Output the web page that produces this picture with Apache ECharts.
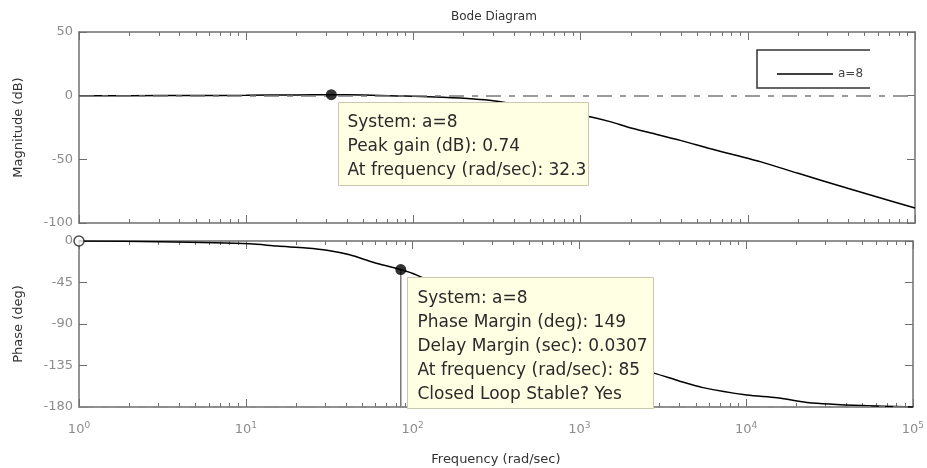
<!DOCTYPE html>
<html>
<head>
<meta charset="utf-8">
<script src="https://cdn.jsdelivr.net/npm/echarts@6/dist/echarts.min.js"></script>
<style>
  html, body { margin: 0; padding: 0; background: #fff; }
  #main { width: 927px; height: 468px; }
</style>
</head>
<body>
<div id="main"></div>
<script>
// magnitude curve (rad/sec, dB)
var magFreq = [1, 2, 5, 10, 20, 32.3, 50, 80, 100, 150, 230, 300, 500, 700, 1000, 1157, 1500, 2000, 2640, 4000, 6000, 8360, 12000, 20000, 40000, 70000, 100000];
var magDb   = [0, 0.02, 0.1, 0.3, 0.6, 0.74, 0.5, -0.2, -0.5, -1.3, -2.6, -4, -8.6, -12, -15.5, -16.7, -20.4, -25.4, -29.3, -35.3, -41.7, -46.6, -52, -61, -72.9, -82.3, -88.2];

// phase curve (rad/sec, deg)
var phaseFreq = [1, 3, 10.6, 15.4, 23, 30.7, 42, 58, 85, 106, 200, 400, 700, 1000, 1500, 2000, 2760, 4000, 5510, 10100, 15300, 23200, 50000, 100000];
var phaseDeg  = [0, -0.8, -3, -5.5, -7.6, -10, -15, -23, -31, -37, -60, -90, -112, -122, -132, -138, -143, -152, -159, -167, -170, -175, -178.5, -180];

// marked points
var peakPoint = [32.3, 0.74];
var marginPoint = [85, -31];
var startPoint = [1, 0];

// ticks
var decades = [1, 10, 100, 1000, 10000];
var minorMult = [2, 3, 4, 5, 6, 7, 8, 9];

var peakText = ['System: a=8', 'Peak gain (dB): 0.74', 'At frequency (rad/sec): 32.3'];
var marginText = ['System: a=8', 'Phase Margin (deg): 149', 'Delay Margin (sec): 0.0307', 'At frequency (rad/sec): 85', 'Closed Loop Stable? Yes'];

var minorTicks = [];
decades.forEach(function (d) {
  minorMult.forEach(function (m) { minorTicks.push(d * m); });
});

function pairs(xs, ys) {
  return xs.map(function (x, i) { return [x, ys[i]]; });
}

var axisGray = '#6f6f6f';
var labelGray = '#8c8c8c';
var font = 'DejaVu Sans';

function xAxisOf(grid, pos, minor, withLabel) {
  return {
    type: 'log', logBase: 10, min: 1, max: 100000,
    gridIndex: grid, position: pos,
    axisLine: { show: !minor, onZero: false, lineStyle: { color: axisGray, width: 1.5 } },
    axisTick: minor
      ? { show: true, inside: true, length: 4, customValues: minorTicks, lineStyle: { color: axisGray } }
      : { show: true, inside: true, length: 8, lineStyle: { color: axisGray } },
    minorTick: { show: false },
    splitLine: { show: false },
    axisLabel: withLabel ? {
      show: true, margin: 14, color: labelGray, fontFamily: font,
      formatter: function (v) {
        return '{b|10}{s|' + Math.round(Math.log10(v)) + '}';
      },
      rich: {
        b: { fontSize: 13, color: labelGray, fontFamily: font },
        s: { fontSize: 9, color: labelGray, fontFamily: font, padding: [0, 0, 9, 0] }
      }
    } : { show: false },
    name: withLabel ? 'Frequency (rad/sec)' : '',
    nameLocation: 'middle', nameGap: 46,
    nameTextStyle: { color: '#333', fontSize: 13, fontFamily: font }
  };
}

function yAxisOf(grid, pos, min, max, interval, name) {
  var left = pos === 'left';
  return {
    type: 'value', gridIndex: grid, position: pos,
    min: min, max: max, interval: interval,
    axisLine: { show: true, onZero: false, lineStyle: { color: axisGray, width: 1.5 } },
    axisTick: { show: true, inside: true, length: 8, lineStyle: { color: axisGray } },
    splitLine: { show: false },
    axisLabel: { show: left, color: labelGray, fontSize: 13, fontFamily: font, margin: 6 },
    name: left ? name : '',
    nameLocation: 'middle', nameRotate: 90, nameGap: 54,
    nameTextStyle: { color: '#333', fontSize: 13, fontFamily: font }
  };
}

function boxGroup(left, top, w, h, lines, tx, ty) {
  var children = [{
    type: 'rect', z: 100, shape: { x: 0, y: 0, width: w, height: h },
    style: { fill: '#ffffe4', stroke: '#c9c9b0', lineWidth: 1 }
  }];
  lines.forEach(function (t, i) {
    children.push({
      type: 'text', z: 101, x: tx, y: ty + i * 24,
      style: { text: t, fill: '#2a2a2a', font: '17px "DejaVu Sans"', textVerticalAlign: 'middle' }
    });
  });
  return { type: 'group', left: left, top: top, z: 100, children: children };
}

var chart = echarts.init(document.getElementById('main'));

var option = {
  backgroundColor: '#fff',
  animation: false,
  title: {
    text: 'Bode Diagram', left: 446, top: 6,
    textStyle: { fontSize: 12, fontWeight: 'normal', color: '#333', fontFamily: font }
  },
  legend: {
    data: [{ name: 'a=8', icon: 'rect' }],
    left: 772, top: 63,
    itemWidth: 56, itemHeight: 1.5, itemGap: 6,
    textStyle: { fontSize: 12, color: '#444', fontFamily: font }
  },
  grid: [
    { left: 79, right: 12, top: 32, height: 191 },
    { left: 79, right: 12, top: 241, height: 166 }
  ],
  xAxis: [
    xAxisOf(0, 'bottom', false, false),
    xAxisOf(0, 'top', false, false),
    xAxisOf(0, 'bottom', true, false),
    xAxisOf(0, 'top', true, false),
    xAxisOf(1, 'bottom', false, true),
    xAxisOf(1, 'top', false, false),
    xAxisOf(1, 'bottom', true, false),
    xAxisOf(1, 'top', true, false)
  ],
  yAxis: [
    yAxisOf(0, 'left', -100, 50, 50, 'Magnitude (dB)'),
    yAxisOf(0, 'right', -100, 50, 50, ''),
    yAxisOf(1, 'left', -180, 0, 45, 'Phase (deg)'),
    yAxisOf(1, 'right', -180, 0, 45, '')
  ],
  graphic: [
    {
      type: 'polyline', z: 40,
      shape: { points: [[870, 50], [757, 50], [757, 88], [870, 88]] },
      style: { stroke: '#333', lineWidth: 1.5, fill: null }
    },
    boxGroup(338, 102, 250, 83, peakText, 9, 20),
    boxGroup(407, 277, 246, 131, marginText, 10, 21)
  ],
  series: [
    {
      name: 'a=8', type: 'line', xAxisIndex: 0, yAxisIndex: 0,
      data: pairs(magFreq, magDb), smooth: 0.3, showSymbol: false,
      color: '#000', lineStyle: { color: '#000', width: 1.5 },
      markLine: {
        silent: true, symbol: 'none', label: { show: false },
        lineStyle: { color: '#7a7a7a', width: 1.5, type: [15, 8, 6, 8] },
        data: [{ yAxis: 0 }]
      },
      z: 3
    },
    {
      name: 'a=8 phase', type: 'line', xAxisIndex: 4, yAxisIndex: 2,
      data: pairs(phaseFreq, phaseDeg), smooth: 0.3, showSymbol: false,
      lineStyle: { color: '#000', width: 1.5 },
      markLine: {
        silent: true, symbol: 'none', label: { show: false },
        lineStyle: { color: '#8a8a8a', width: 1.5, type: [15, 8, 6, 8] },
        data: [{ yAxis: -180 }]
      },
      z: 3
    },
    {
      name: 'margin line', type: 'line', xAxisIndex: 4, yAxisIndex: 2,
      data: [marginPoint, [marginPoint[0], -180]], showSymbol: false,
      lineStyle: { color: '#777', width: 1.5 }, z: 2
    },
    {
      name: 'peak', type: 'scatter', xAxisIndex: 0, yAxisIndex: 0,
      data: [peakPoint], symbol: 'circle', symbolSize: 11,
      itemStyle: { color: '#000' }, z: 5
    },
    {
      name: 'margin', type: 'scatter', xAxisIndex: 4, yAxisIndex: 2,
      data: [marginPoint], symbol: 'circle', symbolSize: 11,
      itemStyle: { color: '#000' }, z: 5
    },
    {
      name: 'start', type: 'scatter', xAxisIndex: 4, yAxisIndex: 2, clip: false,
      data: [startPoint], symbol: 'circle', symbolSize: 10,
      itemStyle: { color: '#fff', borderColor: '#222', borderWidth: 1.5 }, z: 5
    }
  ]
};

chart.setOption(option);
</script>
</body>
</html>
